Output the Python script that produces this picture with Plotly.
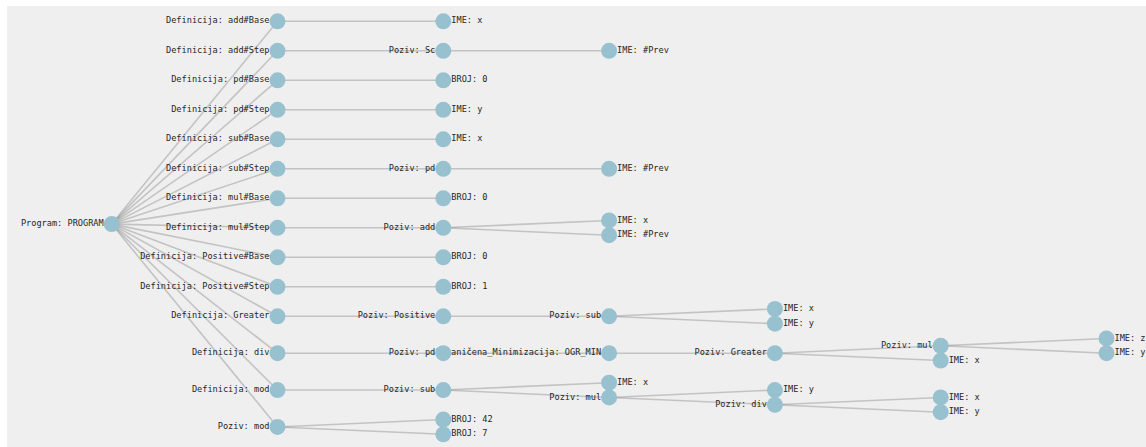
import plotly.graph_objects as go

# ---- tree data ----
labels = [
    "Program: PROGRAM",
    "Definicija: add#Base", "IME: x",
    "Definicija: add#Step", "Poziv: Sc", "IME: #Prev",
    "Definicija: pd#Base", "BROJ: 0",
    "Definicija: pd#Step", "IME: y",
    "Definicija: sub#Base", "IME: x",
    "Definicija: sub#Step", "Poziv: pd", "IME: #Prev",
    "Definicija: mul#Base", "BROJ: 0",
    "Definicija: mul#Step", "Poziv: add", "IME: x", "IME: #Prev",
    "Definicija: Positive#Base", "BROJ: 0",
    "Definicija: Positive#Step", "BROJ: 1",
    "Definicija: Greater", "Poziv: Positive", "Poziv: sub", "IME: x", "IME: y",
    "Definicija: div", "Poziv: pd", "Ograničena_Minimizacija: OGR_MIN", "Poziv: Greater",
    "Poziv: mul", "IME: z", "IME: y", "IME: x",
    "Definicija: mod", "Poziv: sub", "IME: x", "Poziv: mul", "IME: y",
    "Poziv: div", "IME: x", "IME: y",
    "Poziv: mod", "BROJ: 42", "BROJ: 7",
]
parents = [
    -1,
    0, 1,
    0, 3, 4,
    0, 6,
    0, 8,
    0, 10,
    0, 12, 13,
    0, 15,
    0, 17, 18, 18,
    0, 21,
    0, 23,
    0, 25, 26, 27, 27,
    0, 30, 31, 32,
    33, 34, 34, 33,
    0, 38, 39, 39, 41,
    41, 43, 43,
    0, 46, 46,
]

# ---- style / layout constants (page pixels) ----
PAGE_W, PAGE_H = 1146, 447
ML, MT = 7, 6              # white strip left / top
X0, DX = 111.7, 165.8      # depth -> px
Y0, DY = 21.3, 14.75       # layout unit -> px
R_TEXT = 8
NODE_COLOR = "#98c1d0"
LINK_COLOR = "rgba(90,90,90,0.29)"
FONT = dict(family="DejaVu Sans Mono", size=8.6, color="#262626")

n = len(labels)
children = [[] for _ in range(n)]
for i, p in enumerate(parents):
    if p >= 0:
        children[p].append(i)

depth = [0] * n
for i in range(n):
    d, p = 0, parents[i]
    while p >= 0:
        d += 1
        p = parents[p]
    depth[i] = d


def sep(a, b):
    return 1 if parents[a] == parents[b] else 2


def tidy(v):
    """Return dict node->relative position, left & right contours by depth."""
    if not children[v]:
        return {v: 0.0}, {0: (0.0, v)}, {0: (0.0, v)}
    pos = {}
    left, right = {}, {}
    offs = []
    for k, c in enumerate(children[v]):
        cpos, cl, cr = tidy(c)
        if k == 0:
            off = 0.0
        else:
            off = -1e9
            for d in cl:
                if d in right:
                    rp, rn = right[d]
                    lp, ln = cl[d]
                    off = max(off, rp - lp + sep(rn, ln))
        offs.append(off)
        for node, p in cpos.items():
            pos[node] = p + off
        for d, (p, node) in cl.items():
            if d not in left:
                left[d] = (p + off, node)
        for d, (p, node) in cr.items():
            right[d] = (p + off, node)
    mid = (offs[0] + offs[-1]) / 2
    pos = {k: p - mid for k, p in pos.items()}
    pos[v] = 0.0
    nl = {0: (0.0, v)}
    nr = {0: (0.0, v)}
    for d, (p, node) in left.items():
        nl[d + 1] = (p - mid, node)
    for d, (p, node) in right.items():
        nr[d + 1] = (p - mid, node)
    return pos, nl, nr


rel, _, _ = tidy(0)
mn = min(rel.values())
xs = [X0 + depth[i] * DX for i in range(n)]
ys = [Y0 + (rel[i] - mn) * DY for i in range(n)]

fig = go.Figure()

# links
for i in range(n):
    p = parents[i]
    if p >= 0:
        fig.add_trace(go.Scatter(
            x=[xs[p], xs[i]], y=[ys[p], ys[i]], mode="lines",
            line=dict(color=LINK_COLOR, width=1.6), hoverinfo="skip"))

# labels
inner = [i for i in range(n) if children[i]]
leaves = [i for i in range(n) if not children[i]]
fig.add_trace(go.Scatter(
    x=[xs[i] - R_TEXT for i in inner], y=[ys[i] for i in inner],
    text=[labels[i] for i in inner], mode="text", textposition="middle left",
    textfont=FONT, hoverinfo="skip", cliponaxis=False))
fig.add_trace(go.Scatter(
    x=[xs[i] + R_TEXT for i in leaves], y=[ys[i] for i in leaves],
    text=[labels[i] for i in leaves], mode="text", textposition="middle right",
    textfont=FONT, hoverinfo="skip", cliponaxis=False))

# nodes
fig.add_trace(go.Scatter(
    x=xs, y=ys, mode="markers",
    marker=dict(size=16, color=NODE_COLOR, line=dict(width=0)),
    hoverinfo="skip"))

fig.update_layout(
    width=PAGE_W, height=PAGE_H,
    margin=dict(l=ML, r=0, t=MT, b=0),
    paper_bgcolor="white", plot_bgcolor="#efefef",
    showlegend=False,
    xaxis=dict(range=[ML, PAGE_W], visible=False, fixedrange=True),
    yaxis=dict(range=[PAGE_H, MT], visible=False, fixedrange=True),
)

fig.write_html(
    "out.html",
    config={"displayModeBar": False},
    post_script="document.body.style.margin='0';"
                "document.documentElement.style.overflow='hidden';",
)
